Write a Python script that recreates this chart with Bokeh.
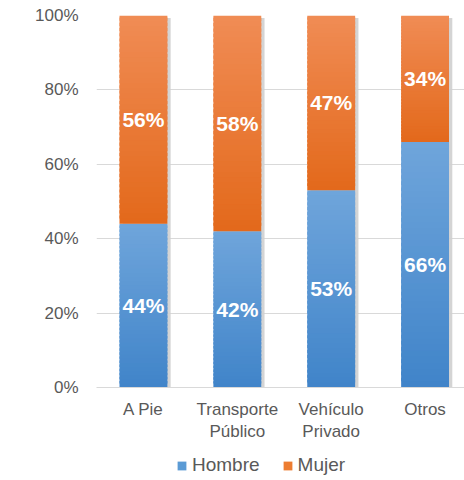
from bokeh.plotting import figure
from bokeh.layouts import column
from bokeh.models import Range1d, FixedTicker, Legend, LegendItem
from bokeh.core.properties import value
from bokeh.embed import file_html
from bokeh.resources import INLINE

categories = ["A Pie", "Transporte\nPúblico", "Vehículo\nPrivado", "Otros"]
hombre = [44, 42, 53, 66]
mujer = [56, 58, 47, 34]
y_ticks = [0, 20, 40, 60, 80, 100]
series = ["Hombre", "Mujer"]

FONT = "Liberation Sans"
GRAY = "#595959"

def lerp(c1, c2, t):
    a = [int(c1[i:i + 2], 16) for i in (1, 3, 5)]
    b = [int(c2[i:i + 2], 16) for i in (1, 3, 5)]
    return "#%02x%02x%02x" % tuple(round(a[k] + (b[k] - a[k]) * t) for k in range(3))

BLUE_TOP, BLUE_BOT = "#6fa5db", "#4084c9"
ORANGE_TOP, ORANGE_BOT = "#f08c55", "#e3691b"

p = figure(width=464, height=445, output_backend="svg", toolbar_location=None,
           x_range=Range1d(-0.5, 3.42), y_range=Range1d(0, 100),
           min_border_left=96, min_border_right=0, min_border_top=15, min_border_bottom=58)
p.outline_line_color = None
p.background_fill_color = "white"
p.border_fill_color = "white"

xs = list(range(len(categories)))
W = 0.51
N = 40

# shadow
p.vbar(x=[x + 0.035 for x in xs], width=W, bottom=0, top=[99.3] * len(xs),
       fill_color="#cfcfcf", line_color=None, fill_alpha=0.9)

# gradient slices
sx, sb, st, sc = [], [], [], []
for i, x in enumerate(xs):
    for lo, hi, ctop, cbot in ((0, hombre[i], BLUE_TOP, BLUE_BOT),
                              (hombre[i], hombre[i] + mujer[i], ORANGE_TOP, ORANGE_BOT)):
        h = hi - lo
        for k in range(N):
            b = lo + h * k / N
            t = lo + h * (k + 1) / N
            sx.append(x)
            sb.append(b)
            st.append(min(t + h / N * 0.6, hi))
            sc.append(lerp(cbot, ctop, (k + 0.5) / N))
p.vbar(x=sx, width=W, bottom=sb, top=st, fill_color=sc, line_color=None)

# labels
lx, ly, lt = [], [], []
for i, x in enumerate(xs):
    lx += [x, x]
    ly += [hombre[i] / 2, hombre[i] + mujer[i] / 2]
    lt += [f"{hombre[i]}%", f"{mujer[i]}%"]
p.text(x=lx, y=ly, text=lt, text_color="white", text_font=value(FONT),
       text_font_size="21px", text_font_style="bold", text_align="center",
       text_baseline="middle")

# axes
p.yaxis.ticker = FixedTicker(ticks=y_ticks)
p.yaxis.major_label_overrides = {t: f"{t}%" for t in y_ticks}
p.yaxis.axis_line_color = None
p.yaxis.major_tick_line_color = None
p.yaxis.minor_tick_line_color = None
p.yaxis.major_label_text_font = FONT
p.yaxis.major_label_text_font_size = "17px"
p.yaxis.major_label_text_color = GRAY
p.yaxis.major_label_standoff = 12

p.xaxis.ticker = FixedTicker(ticks=xs)
p.xaxis.major_label_overrides = {x: c for x, c in zip(xs, categories)}
p.xaxis.axis_line_color = "#d9d9d9"
p.xaxis.major_tick_line_color = None
p.xaxis.minor_tick_line_color = None
p.xaxis.major_label_text_font = FONT
p.xaxis.major_label_text_font_size = "17px"
p.xaxis.major_label_text_color = GRAY
p.xaxis.major_label_standoff = 6

p.xgrid.grid_line_color = None
p.ygrid.grid_line_color = "#d9d9d9"

# legend in a small figure below (its frame aligns with the main frame at x=96)
lf = figure(width=464, height=35, output_backend="svg", toolbar_location=None,
            x_range=Range1d(0, 1), y_range=Range1d(0, 1),
            min_border_left=96, min_border_right=0, min_border_top=0, min_border_bottom=0)
lf.axis.visible = False
lf.grid.visible = False
lf.outline_line_color = None
r1 = lf.vbar(x=[-5], top=[-5], width=0.1, fill_color="#5b9bd5", line_color=None)
r2 = lf.vbar(x=[-5], top=[-5], width=0.1, fill_color="#ed7d31", line_color=None)
legend = Legend(items=[LegendItem(label=series[0], renderers=[r1]),
                       LegendItem(label=series[1], renderers=[r2])],
                orientation="horizontal", location=(80, 4),
                label_text_font=FONT, label_text_font_size="19px",
                label_text_color=GRAY, glyph_width=11, glyph_height=11,
                border_line_color=None, background_fill_alpha=0,
                spacing=22, label_standoff=5, margin=0, padding=0)
lf.add_layout(legend, "center")

open("out.html", "w").write(file_html(column(p, lf, spacing=0), INLINE))
